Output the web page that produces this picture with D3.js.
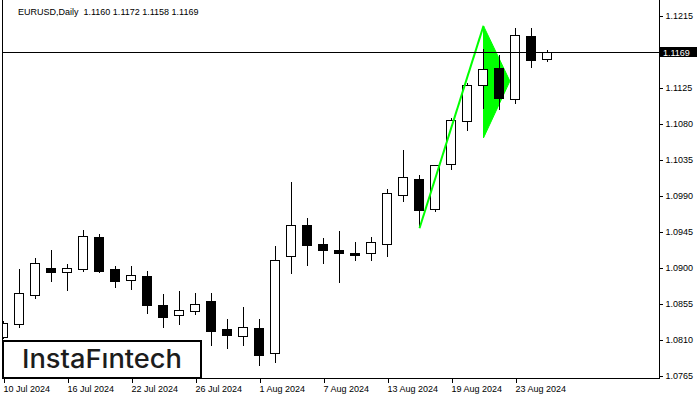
<!DOCTYPE html>
<html><head><meta charset="utf-8">
<script src="https://cdn.jsdelivr.net/npm/d3@7"></script>
<style>html,body{margin:0;padding:0;background:#fff;} svg{display:block;}</style>
</head><body>
<svg id="c" width="700" height="400"></svg>
<script>
const symbol = "EURUSD,Daily";
const dates = ["2024-07-10","2024-07-11","2024-07-12","2024-07-15","2024-07-16","2024-07-17","2024-07-18","2024-07-19",
  "2024-07-22","2024-07-23","2024-07-24","2024-07-25","2024-07-26","2024-07-29","2024-07-30","2024-07-31",
  "2024-08-01","2024-08-02","2024-08-05","2024-08-06","2024-08-07","2024-08-08","2024-08-09","2024-08-12",
  "2024-08-13","2024-08-14","2024-08-15","2024-08-16","2024-08-19","2024-08-20","2024-08-21","2024-08-22",
  "2024-08-23","2024-08-26","2024-08-27"];
const open  = [1.0813,1.0829,1.0865,1.0899,1.0894,1.0898,1.0938,1.0898,1.0884,1.0889,1.0853,1.0840,1.0845,1.0857,1.0822,1.0814,
  1.0824,1.0792,1.0914,1.0953,1.0929,1.0921,1.0917,1.0917,1.0929,1.0990,1.1010,1.0973,1.1029,1.1083,1.1127,1.1149,1.1110,1.1189,1.1160];
const high  = [1.0834,1.0899,1.0912,1.0923,1.0905,1.0948,1.0942,1.0902,1.0903,1.0896,1.0867,1.0871,1.0869,1.0869,1.0836,1.0851,
  1.0836,1.0927,1.1008,1.0963,1.0937,1.0946,1.0932,1.0939,1.0999,1.1047,1.1016,1.1029,1.1087,1.1131,1.1174,1.1166,1.1200,1.1200,1.1172];
const low   = [1.0811,1.0825,1.0861,1.0882,1.0871,1.0895,1.0894,1.0875,1.0873,1.0843,1.0825,1.0829,1.0841,1.0802,1.0799,1.0802,
  1.0777,1.0781,1.0893,1.0903,1.0905,1.0881,1.0909,1.0909,1.0914,1.0982,1.0950,1.0970,1.1023,1.1071,1.1099,1.1097,1.1105,1.1150,1.1158];
const close = [1.0830,1.0867,1.0905,1.0894,1.0899,1.0939,1.0895,1.0882,1.0890,1.0853,1.0838,1.0846,1.0854,1.0820,1.0815,1.0825,
  1.0790,1.0909,1.0952,1.0928,1.0921,1.0917,1.0915,1.0931,1.0993,1.1012,1.0971,1.1028,1.1084,1.1128,1.1148,1.1111,1.1190,1.1159,1.1169];
const yTicks = [1.0765,1.0810,1.0855,1.0900,1.0945,1.0990,1.1035,1.1080,1.1125,1.1215];
const xTickDates = ["2024-07-10","2024-07-16","2024-07-22","2024-07-26","2024-08-01","2024-08-07","2024-08-13","2024-08-19","2024-08-23"];
// pattern: rising pole line and pennant triangle (bar index, price)
const poleIdx = [26, 30];
const polePrice = [1.0949, 1.1202];
const triIdx = [30, 31.65, 30];
const triPrice = [1.1202, 1.1133, 1.1062];

const svg = d3.select("#c");
const FONT = "'Liberation Sans', Arial, sans-serif";
const x = d3.scaleLinear().domain([0, 34]).range([3.5, 547.5]);
const y = d3.scaleLinear().domain([1.0765, 1.1215]).range([375.5, 15.5]);
const px = v => Math.round(v - 0.5) + 0.5;
const parse = d3.timeParse("%Y-%m-%d");
const fmt = d3.timeFormat("%-d %b %Y");

const L = 2.5, R = 659.5, B = 378.5;

svg.append("defs").append("clipPath").attr("id","clip")
  .append("rect").attr("x", 3).attr("y", 0).attr("width", R - 3.5).attr("height", B - 0.5);

const plot = svg.append("g").attr("clip-path","url(#clip)");

// pennant triangle
plot.append("path")
  .attr("d", d3.line().x((d,i)=>x(triIdx[i])).y((d,i)=>y(triPrice[i]))(triIdx) + "Z")
  .attr("fill", "#00ff00").attr("stroke", "#00ff00").attr("stroke-width", 1);

// candles
const candles = plot.append("g").selectAll("g").data(dates).join("g");
candles.append("line")
  .attr("x1", (d,i)=>px(x(i))).attr("x2", (d,i)=>px(x(i)))
  .attr("y1", (d,i)=>px(y(high[i]))).attr("y2", (d,i)=>px(y(low[i])))
  .attr("stroke", "#000").attr("stroke-width", 1).attr("shape-rendering","crispEdges");
candles.append("rect")
  .attr("x", (d,i)=>px(x(i)) - 5)
  .attr("width", 9)
  .attr("y", (d,i)=>px(y(Math.max(open[i], close[i]))))
  .attr("height", (d,i)=>Math.max(1, px(y(Math.min(open[i], close[i]))) - px(y(Math.max(open[i], close[i])))))
  .attr("fill", (d,i)=>close[i] >= open[i] ? "#fff" : "#000")
  .attr("stroke", "#000").attr("stroke-width", 1).attr("shape-rendering","crispEdges");

// pole line
plot.append("path")
  .attr("d", d3.line().x((d,i)=>x(poleIdx[i])).y((d,i)=>y(polePrice[i]))(poleIdx))
  .attr("fill", "none").attr("stroke", "#00ff00").attr("stroke-width", 2);

// current price line
const last = close[close.length - 1];
const py = px(y(last));
svg.append("line").attr("x1", L).attr("x2", R).attr("y1", py).attr("y2", py)
  .attr("stroke", "#000").attr("stroke-width", 1).attr("shape-rendering","crispEdges");

// frame
svg.append("path").attr("d", `M${L},0V${B}H${R}V0`).attr("fill","none").attr("stroke","#000")
  .attr("stroke-width",1).attr("shape-rendering","crispEdges");

// x axis
const xAxis = svg.append("g").attr("transform", `translate(0,${B})`)
  .call(d3.axisBottom(x).tickValues(xTickDates.map(d => dates.indexOf(d))).tickSize(4)
    .tickFormat(i => fmt(parse(dates[i]))));
xAxis.select(".domain").remove();
xAxis.selectAll(".tick line").attr("stroke","#000").attr("shape-rendering","crispEdges");
xAxis.selectAll(".tick text").attr("text-anchor","start").attr("x", -0.5).attr("y", 13).attr("dy", 0)
  .attr("fill","#000").style("font-family", FONT).style("font-size","9px");

// y axis
const yAxis = svg.append("g").attr("transform", `translate(${R},0)`)
  .call(d3.axisRight(y).tickValues(yTicks).tickSize(3).tickFormat(d3.format(".4f")));
yAxis.select(".domain").remove();
yAxis.selectAll(".tick line").attr("stroke","#000").attr("shape-rendering","crispEdges");
yAxis.selectAll(".tick text").attr("x", 6).attr("dy","0.34em")
  .attr("fill","#000").style("font-family", FONT).style("font-size","9px");

// current price label
svg.append("rect").attr("x", 660).attr("y", py - 5.5).attr("width", 37).attr("height", 10).attr("fill","#000");
svg.append("text").attr("x", 663).attr("y", py + 3.2).text(d3.format(".4f")(last))
  .attr("fill","#fff").style("font-family", FONT).style("font-size","9px");

// header
const f4 = d3.format(".4f");
const n = close.length - 1;
svg.append("text").attr("x", 18).attr("y", 15).style("white-space","pre")
  .text(`${symbol}  ${f4(open[n])} ${f4(high[n])} ${f4(low[n])} ${f4(close[n])}`)
  .attr("fill","#000").style("font-family", FONT).style("font-size","9px");

// logo
svg.append("rect").attr("x", 3).attr("y", 341).attr("width", 198).attr("height", 37)
  .attr("fill","#fff").attr("stroke","#000").attr("stroke-width", 2);
svg.append("text").attr("x", 22).attr("y", 368).text("InstaFıntech")
  .attr("textLength", 160).attr("lengthAdjust","spacingAndGlyphs")
  .attr("fill","#1c1c1c").style("font-family","Inter, Lato, sans-serif").style("font-size","26px").style("font-weight","500");
</script>
</body></html>
